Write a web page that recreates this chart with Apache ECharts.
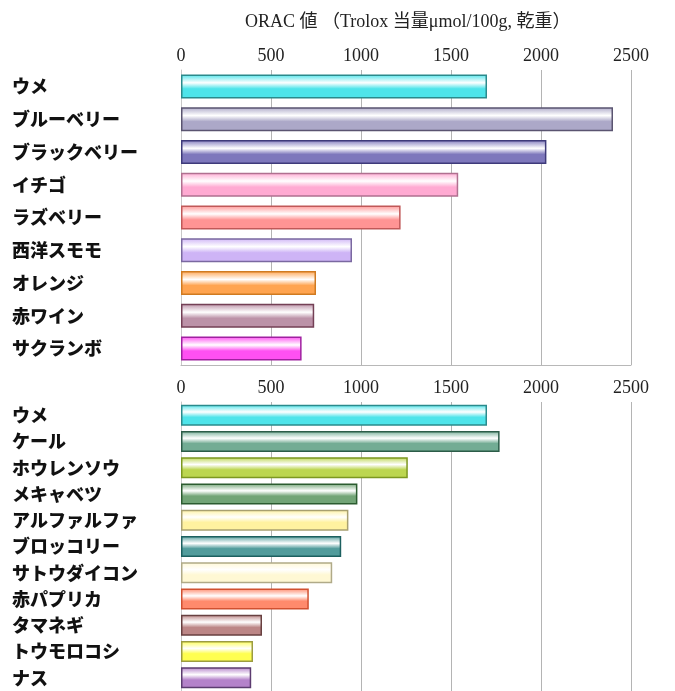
<!DOCTYPE html>
<html>
<head>
<meta charset="utf-8">
<script src="https://cdn.jsdelivr.net/npm/echarts@6/dist/echarts.min.js"></script>
<style>
  html, body { margin: 0; padding: 0; background: #fff; }
  #main { width: 675px; height: 691px; }
</style>
</head>
<body>
<div id="main"></div>
<script>
// 果物
var fruitNames = ['ウメ', 'ブルーベリー', 'ブラックベリー', 'イチゴ', 'ラズベリー', '西洋スモモ', 'オレンジ', '赤ワイン', 'サクランボ'];
var fruitValues = [1700, 2400, 2030, 1540, 1220, 950, 750, 740, 670];
var fruitColors = ['#4ee4ea', '#aca8c8', '#7e78bc', '#ffaad2', '#ff9494', '#ceb4f6', '#ffa450', '#bc92a8', '#ff50f2'];
var fruitEdges = ['#2a8a8c', '#5a5470', '#3e3a7a', '#b07090', '#c05858', '#7a68a0', '#d07a20', '#744056', '#a020a0'];

// 野菜
var vegNames = ['ウメ', 'ケール', 'ホウレンソウ', 'メキャベツ', 'アルファルファ', 'ブロッコリー', 'サトウダイコン', '赤パプリカ', 'タマネギ', 'トウモロコシ', 'ナス'];
var vegValues = [1700, 1770, 1260, 980, 930, 890, 840, 710, 450, 400, 390];
var vegColors = ['#4ee4ea', '#72ac94', '#bcd650', '#72a476', '#fff2a0', '#529c9c', '#fff8d4', '#ff8a6c', '#bc8686', '#ffff50', '#b482ca'];
var vegEdges = ['#2a8a8c', '#2c5c48', '#7c9820', '#2c5c30', '#a8a070', '#1c6060', '#b0aa88', '#d05030', '#684040', '#9c9c40', '#5c3c70'];

var xTicks = [0, 500, 1000, 1500, 2000, 2500];

function tube(c) {
    return new echarts.graphic.LinearGradient(0, 0, 0, 1, [
        { offset: 0, color: c },
        { offset: 0.35, color: '#ffffff' },
        { offset: 0.6, color: c },
        { offset: 1, color: c }
    ]);
}

function barData(vals, cols, edges) {
    var out = [];
    for (var i = 0; i < vals.length; i++) {
        out.push({
            value: vals[i],
            itemStyle: { color: tube(cols[i]), borderColor: edges[i], borderWidth: 1.5 }
        });
    }
    return out;
}

var serif = '"Liberation Serif", "Noto Sans CJK JP", serif';
var gothic = '"Noto Sans CJK JP", sans-serif';

function xAxisFor(idx, pos, showLabel) {
    return {
        type: 'value',
        gridIndex: idx,
        position: pos,
        min: 0,
        max: xTicks[xTicks.length - 1],
        interval: 500,
        axisLine: { show: !showLabel, lineStyle: { color: '#b8b8b8' } },
        axisTick: { show: false },
        axisLabel: {
            show: showLabel, fontFamily: serif, fontSize: 18, color: '#222', margin: 5,
            formatter: function (v) { return String(v); }
        },
        splitLine: { show: showLabel, lineStyle: { color: '#b4b4b4', width: 1 } }
    };
}

function yAxisFor(idx, names) {
    return {
        type: 'category',
        gridIndex: idx,
        inverse: true,
        data: names,
        axisLine: { show: true, lineStyle: { color: '#c8c8c8' } },
        axisTick: { show: false },
        axisLabel: {
            align: 'left', margin: 169,
            fontFamily: gothic, fontWeight: 900, fontSize: 18, color: '#111'
        }
    };
}

var chart = echarts.init(document.getElementById('main'));
chart.setOption({
    animation: false,
    backgroundColor: '#fff',
    title: {
        text: 'ORAC 値 （Trolox 当量μmol/100g, 乾重）',
        left: 240, top: 8,
        textStyle: { fontFamily: serif, fontSize: 18, fontWeight: 'normal', color: '#222' }
    },
    grid: [
        { left: 181, right: 44, top: 70, height: 295 },
        { left: 181, right: 44, top: 402, height: 290 }
    ],
    xAxis: [
        xAxisFor(0, 'top', true),
        xAxisFor(0, 'bottom', false),
        xAxisFor(1, 'top', true)
    ],
    yAxis: [
        yAxisFor(0, fruitNames),
        yAxisFor(1, vegNames)
    ],
    series: [
        {
            type: 'bar', xAxisIndex: 0, yAxisIndex: 0,
            barWidth: 24,
            data: barData(fruitValues, fruitColors, fruitEdges)
        },
        {
            type: 'bar', xAxisIndex: 2, yAxisIndex: 1,
            barWidth: 21,
            data: barData(vegValues, vegColors, vegEdges)
        }
    ]
});
</script>
</body>
</html>
